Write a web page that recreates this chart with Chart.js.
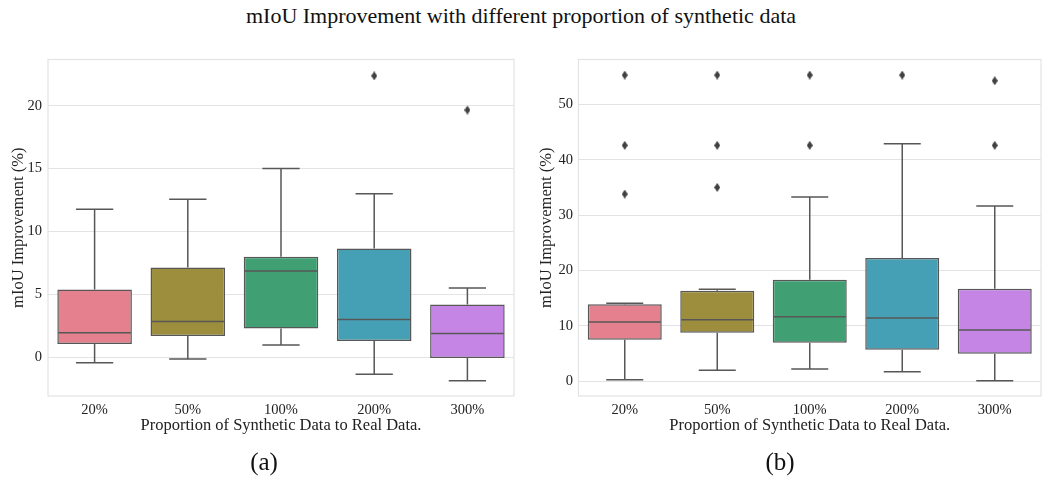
<!DOCTYPE html>
<html>
<head>
<meta charset="utf-8">
<script src="https://cdn.jsdelivr.net/npm/chart.js@4/dist/chart.umd.min.js"></script>
<style>
  body { margin: 0; width: 1042px; height: 477px; overflow: hidden; background: #fff; position: relative; font-family: "Liberation Serif", "DejaVu Serif", serif; }
  #title { position: absolute; top: 3px; left: 0; width: 1042px; text-align: center; font-size: 22px; color: #111; }
  .panel { position: absolute; top: 50px; height: 400px; }
  .cap { position: absolute; top: 447px; font-size: 25px; line-height: 30px; color: #111; width: 80px; text-align: center; }
</style>
</head>
<body>
<div id="title">mIoU Improvement with different proportion of synthetic data</div>
<div class="panel" style="left:0;width:520px"><canvas id="chartA"></canvas></div>
<div class="panel" style="left:520px;width:526px"><canvas id="chartB"></canvas></div>
<div class="cap" style="left:224px">(a)</div>
<div class="cap" style="left:740px">(b)</div>
<script>
const categories = ['20%', '50%', '100%', '200%', '300%'];

// panel (a)
const lowA  = [-0.45, -0.16, 0.95, -1.37, -1.88];
const q1A   = [1.03, 1.67, 2.28, 1.27, -0.08];
const medA  = [1.93, 2.83, 6.85, 2.99, 1.88];
const q3A   = [5.37, 7.12, 7.99, 8.63, 4.18];
const highA = [11.77, 12.56, 15.0, 12.99, 5.50];
const outA  = [[], [], [], [22.38], [19.66]];
const ticksA = [0, 5, 10, 15, 20];

// panel (b)
const lowB  = [0.24, 1.93, 2.17, 1.69, 0.06];
const q1B   = [7.47, 8.73, 6.93, 5.66, 4.94];
const medB  = [10.66, 11.08, 11.62, 11.39, 9.22];
const q3B   = [13.86, 16.33, 18.31, 22.23, 16.69];
const highB = [14.04, 16.57, 33.26, 42.89, 31.63];
const outB  = [[55.3, 42.6, 33.8], [55.3, 42.6, 35.0], [55.3, 42.6], [55.3], [54.27, 42.6]];
const ticksB = [0, 10, 20, 30, 40, 50];

const boxColors = ['#e5808f', '#9d8e3d', '#40a073', '#45a0b6', '#c585e5'];
const lineColor = '#575757';
const gridColor = '#e3e3e3';
const textColor = '#222222';
const serif = '"Liberation Serif", "DejaVu Serif", serif';

// thin diamond marker like seaborn's 'd'
const diamond = document.createElement('canvas');
diamond.width = 6;
diamond.height = 9;
(function () {
    const c = diamond.getContext('2d');
    c.fillStyle = '#404040';
    c.beginPath();
    c.moveTo(3, 0); c.lineTo(6, 4.5); c.lineTo(3, 9); c.lineTo(0, 4.5);
    c.closePath();
    c.fill();
})();

function boxPlugin(low, q1, med, q3, high) {
    return {
        id: 'boxParts',
        beforeDatasetsDraw(chart) {
            const { ctx, chartArea } = chart;
            ctx.save();
            ctx.strokeStyle = gridColor;
            ctx.lineWidth = 1.2;
            ctx.strokeRect(chartArea.left, chartArea.top, chartArea.right - chartArea.left, chartArea.bottom - chartArea.top);
            ctx.restore();
        },
        afterDatasetsDraw(chart) {
            const { ctx } = chart;
            const y = chart.scales.y;
            const bars = chart.getDatasetMeta(0).data;
            ctx.save();
            ctx.strokeStyle = lineColor;
            ctx.lineWidth = 1.5;
            bars.forEach((bar, i) => {
                const cx = bar.x;
                const half = bar.width / 2;
                const cap = bar.width / 4;
                const yLow = y.getPixelForValue(low[i]);
                const yQ1 = y.getPixelForValue(q1[i]);
                const yMed = y.getPixelForValue(med[i]);
                const yQ3 = y.getPixelForValue(q3[i]);
                const yHigh = y.getPixelForValue(high[i]);
                ctx.beginPath();
                ctx.moveTo(cx, yQ3); ctx.lineTo(cx, yHigh);
                ctx.moveTo(cx - cap, yHigh); ctx.lineTo(cx + cap, yHigh);
                ctx.moveTo(cx, yQ1); ctx.lineTo(cx, yLow);
                ctx.moveTo(cx - cap, yLow); ctx.lineTo(cx + cap, yLow);
                ctx.moveTo(cx - half + 1, yMed); ctx.lineTo(cx + half - 1, yMed);
                ctx.stroke();
            });
            ctx.restore();
        }
    };
}

function makeBoxChart(id, low, q1, med, q3, high, outliers, ticks, yMin, yMax, dims) {
    const ctx = document.getElementById(id).getContext('2d');
    const points = [];
    outliers.forEach((arr, i) => arr.forEach(v => points.push({ x: categories[i], y: v })));

    new Chart(ctx, {
        type: 'bar',
        data: {
            labels: categories,
            datasets: [{
                type: 'bar',
                data: q1.map((v, i) => [v, q3[i]]),
                backgroundColor: boxColors,
                borderColor: lineColor,
                borderWidth: 1.5,
                borderSkipped: false,
                barPercentage: 0.8,
                categoryPercentage: 1.0
            }, {
                type: 'scatter',
                data: points,
                pointStyle: diamond,
                pointRadius: 4,
                backgroundColor: '#404040'
            }]
        },
        options: {
            responsive: true,
            maintainAspectRatio: false,
            animation: false,
            events: [],
            layout: {
                padding: { top: 9.5, right: dims.right, bottom: 0, left: 0 }
            },
            scales: {
                x: {
                    grid: { display: false, drawTicks: false },
                    border: { display: false },
                    ticks: {
                        color: textColor,
                        padding: 5,
                        maxRotation: 0,
                        font: { family: serif, size: 14.5 }
                    },
                    title: {
                        display: true,
                        text: 'Proportion of Synthetic Data to Real Data.',
                        color: textColor,
                        padding: { top: 0, bottom: 14 },
                        font: { family: serif, size: 16.5 }
                    },
                    afterFit(scale) {
                        scale.height = 54;
                        scale.paddingLeft = 0;
                        scale.paddingRight = 0;
                    }
                },
                y: {
                    min: yMin,
                    max: yMax,
                    grid: { color: gridColor, lineWidth: 1, drawTicks: false },
                    border: { display: false },
                    afterBuildTicks(scale) { scale.ticks = ticks.map(v => ({ value: v })); },
                    ticks: {
                        color: textColor,
                        padding: dims.tickPad,
                        font: { family: serif, size: 14.5 }
                    },
                    title: {
                        display: true,
                        text: 'mIoU Improvement (%)',
                        color: textColor,
                        padding: { top: dims.titlePad, bottom: 0 },
                        font: { family: serif, size: 16.5 }
                    },
                    afterFit(scale) {
                        scale.width = dims.yWidth;
                        scale.paddingTop = 0;
                        scale.paddingBottom = 0;
                    }
                }
            },
            plugins: {
                legend: { display: false },
                tooltip: { enabled: false }
            }
        },
        plugins: [boxPlugin(low, q1, med, q3, high)]
    });
}

makeBoxChart('chartA', lowA, q1A, medA, q3A, highA, outA, ticksA, -3.1, 23.68,
    { yWidth: 48, right: 6, tickPad: 6, titlePad: 9 });
makeBoxChart('chartB', lowB, q1B, medB, q3B, highB, outB, ticksB, -2.71, 58.12,
    { yWidth: 58.5, right: 2, tickPad: 5.5, titlePad: 17 });
</script>
</body>
</html>
